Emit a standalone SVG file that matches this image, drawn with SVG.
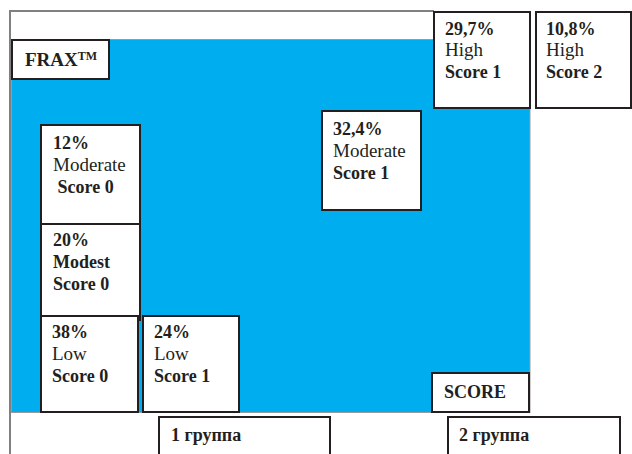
<svg xmlns="http://www.w3.org/2000/svg" width="632" height="454" viewBox="0 0 632 454">
<style>
.box{fill:#fff;stroke:#231f20;stroke-width:2}
</style>
<rect width="632" height="454" fill="#fff"/>
<g id="frame">
<line x1="10" y1="11" x2="434" y2="11" stroke="#808080" stroke-width="2"/>
<line x1="10" y1="10" x2="10" y2="454" stroke="#808080" stroke-width="2"/>
<rect x="11.5" y="39.5" width="518.5" height="373" fill="#00aeef" stroke="#9a9a9a" stroke-width="1"/>
</g>
<g id="connectors"></g>
<g font-family="Liberation Serif, Times New Roman, serif" font-size="18" fill="#231f20">
<g id="frax"><rect class="box" x="12" y="40" width="97" height="39"/><text font-weight="bold" x="25" y="66" font-size="19">FRAX<tspan font-size="12" dy="-6">TM</tspan></text></g>
<g id="n297"><rect class="box" x="434" y="12" width="96" height="96"/>
<text x="445" y="35"><tspan font-weight="bold">29,7%</tspan><tspan x="445" y="56" font-size="19">High</tspan><tspan font-weight="bold" x="445" y="78">Score 1</tspan></text></g>
<g id="n108"><rect class="box" x="536" y="12" width="95" height="96"/>
<text x="546" y="35"><tspan font-weight="bold">10,8%</tspan><tspan x="546" y="56" font-size="19">High</tspan><tspan font-weight="bold" x="546" y="78">Score 2</tspan></text></g>
<g id="n324"><rect class="box" x="322" y="111" width="99" height="99"/>
<text x="333" y="135"><tspan font-weight="bold">32,4%</tspan><tspan x="333" y="157" font-size="19">Moderate</tspan><tspan font-weight="bold" x="333" y="179">Score 1</tspan></text></g>
<g id="n12"><rect class="box" x="41" y="125" width="99" height="99"/>
<text x="53" y="149"><tspan font-weight="bold">12%</tspan><tspan x="53" y="171" font-size="19">Moderate</tspan><tspan font-weight="bold" x="57.5" y="193">Score 0</tspan></text></g>
<g id="n20"><rect class="box" x="41" y="224" width="99" height="96"/>
<text font-weight="bold" x="53" y="246"><tspan>20%</tspan><tspan x="53" y="268">Modest</tspan><tspan x="53" y="290">Score 0</tspan></text></g>
<g id="n38"><rect class="box" x="41" y="316" width="97" height="96"/>
<text x="52" y="338"><tspan font-weight="bold">38%</tspan><tspan x="52" y="360" font-size="19">Low</tspan><tspan font-weight="bold" x="52" y="382">Score 0</tspan></text></g>
<g id="n24"><rect class="box" x="143" y="316" width="96" height="96"/>
<text x="154" y="338"><tspan font-weight="bold">24%</tspan><tspan x="154" y="360" font-size="19">Low</tspan><tspan font-weight="bold" x="154" y="382">Score 1</tspan></text></g>
<g id="score"><rect class="box" x="432" y="373" width="97" height="39"/><text font-weight="bold" x="444" y="398">SCORE</text></g>
<g id="g1"><rect class="box" x="159" y="417" width="171" height="45"/><text font-weight="bold" x="171" y="441">1 группа</text></g>
<g id="g2"><rect class="box" x="448" y="417" width="172" height="45"/><text font-weight="bold" x="459" y="441">2 группа</text></g>
</g>
</svg>
